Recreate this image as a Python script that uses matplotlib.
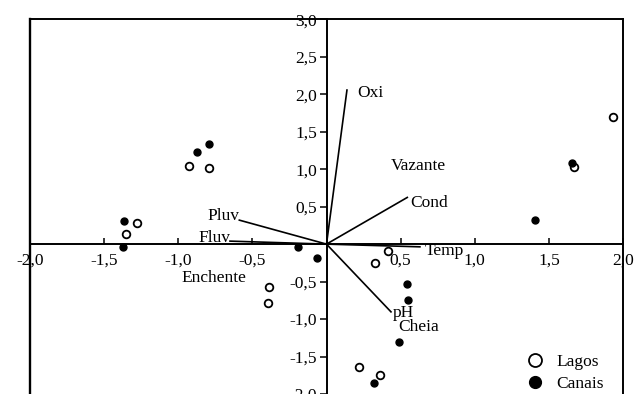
import matplotlib.pyplot as plt
import numpy as np

plt.rcParams['font.family'] = ['Liberation Serif', 'DejaVu Serif']

# sample scores
lagos_x = [-0.93, -0.79, 1.93, 1.67, -1.28, -1.355, -0.386, -0.393, 0.413, 0.33, 0.22, 0.36]
lagos_y = [1.045, 1.01, 1.70, 1.03, 0.276, 0.13, -0.578, -0.783, -0.089, -0.25, -1.64, -1.745]
canais_x = [-0.876, -0.79, 1.655, -1.366, -1.371, -0.194, -0.062, 1.409, 0.543, 0.55, 0.491, 0.318]
canais_y = [1.228, 1.335, 1.085, 0.307, -0.036, -0.036, -0.182, 0.32, -0.538, -0.739, -1.308, -1.847]

# environmental vectors
vec_names = ['Oxi', 'Cond', 'Temp', 'pH', 'Pluv', 'Fluv']
vec_x = [0.138, 0.545, 0.63, 0.435, -0.588, -0.651]
vec_y = [2.056, 0.623, -0.036, -0.904, 0.32, 0.04]

# period centroids (labels only)
per_names = ['Vazante', 'Enchente', 'Cheia']
per_x = [0.62, -0.757, 0.622]
per_y = [1.045, -0.45, -1.11]

fig = plt.figure(figsize=(6.43, 3.94), dpi=100)
ax = fig.add_axes([30 / 643, 0.0, 593 / 643, 374.7 / 394])
ax.set_xlim(-2.0, 2.0)
ax.set_ylim(-2.0, 3.0)

for name, x, y in zip(vec_names, vec_x, vec_y):
    ax.plot([0, x], [0, y], color='black', lw=1.2)

fs = 12.5
ax.text(vec_x[0] + 0.07, 2.01, 'Oxi', fontsize=fs, ha='left', va='center')
ax.text(vec_x[1] + 0.02, 0.55, 'Cond', fontsize=fs, ha='left', va='center')
ax.text(0.66, -0.09, 'Temp', fontsize=fs, ha='left', va='center')
ax.text(0.45, -0.92, 'pH', fontsize=fs, ha='left', va='center')
ax.text(vec_x[4], 0.38, 'Pluv', fontsize=fs, ha='right', va='center')
ax.text(vec_x[5], 0.085, 'Fluv', fontsize=fs, ha='right', va='center')
for name, x, y in zip(per_names, per_x, per_y):
    ax.text(x, y, name, fontsize=fs, ha='center', va='center')

ax.plot(lagos_x, lagos_y, 'o', ms=5.5, mfc='white', mec='black', mew=1.3,
        ls='none', label='Lagos')
ax.plot(canais_x, canais_y, 'o', ms=5, mfc='black', mec='black',
        ls='none', label='Canais')

ax.legend(loc='lower right', frameon=False, fontsize=fs, markerscale=1.7,
          handletextpad=0.2, borderaxespad=0.2, labelspacing=0.3,
          bbox_to_anchor=(0.985, -0.022))

# axes through the origin
ax.spines['left'].set_position(('data', 0))
ax.spines['bottom'].set_position(('data', 0))
for s in ['left', 'bottom', 'top', 'right']:
    ax.spines[s].set_linewidth(1.4)
ax.plot([0, 0], [0, 1], transform=ax.transAxes, color='black', lw=1.7, clip_on=False)

yt = [-2.0, -1.5, -1.0, -0.5, 0.5, 1.0, 1.5, 2.0, 2.5, 3.0]
xt = [-2.0, -1.5, -1.0, -0.5, 0.5, 1.0, 1.5, 2.0]
ax.set_yticks(yt)
ax.set_yticklabels([f'{v:.1f}'.replace('.', ',') for v in yt], fontsize=fs)
ax.set_xticks(xt)
ax.set_xticklabels([f'{v:.1f}'.replace('.', ',') for v in xt], fontsize=fs)
ax.tick_params(axis='y', direction='out', length=5, width=1.1, pad=2)
ax.tick_params(axis='x', direction='in', length=4, width=1.1, pad=6)

fig.savefig('out.png', dpi=100)
